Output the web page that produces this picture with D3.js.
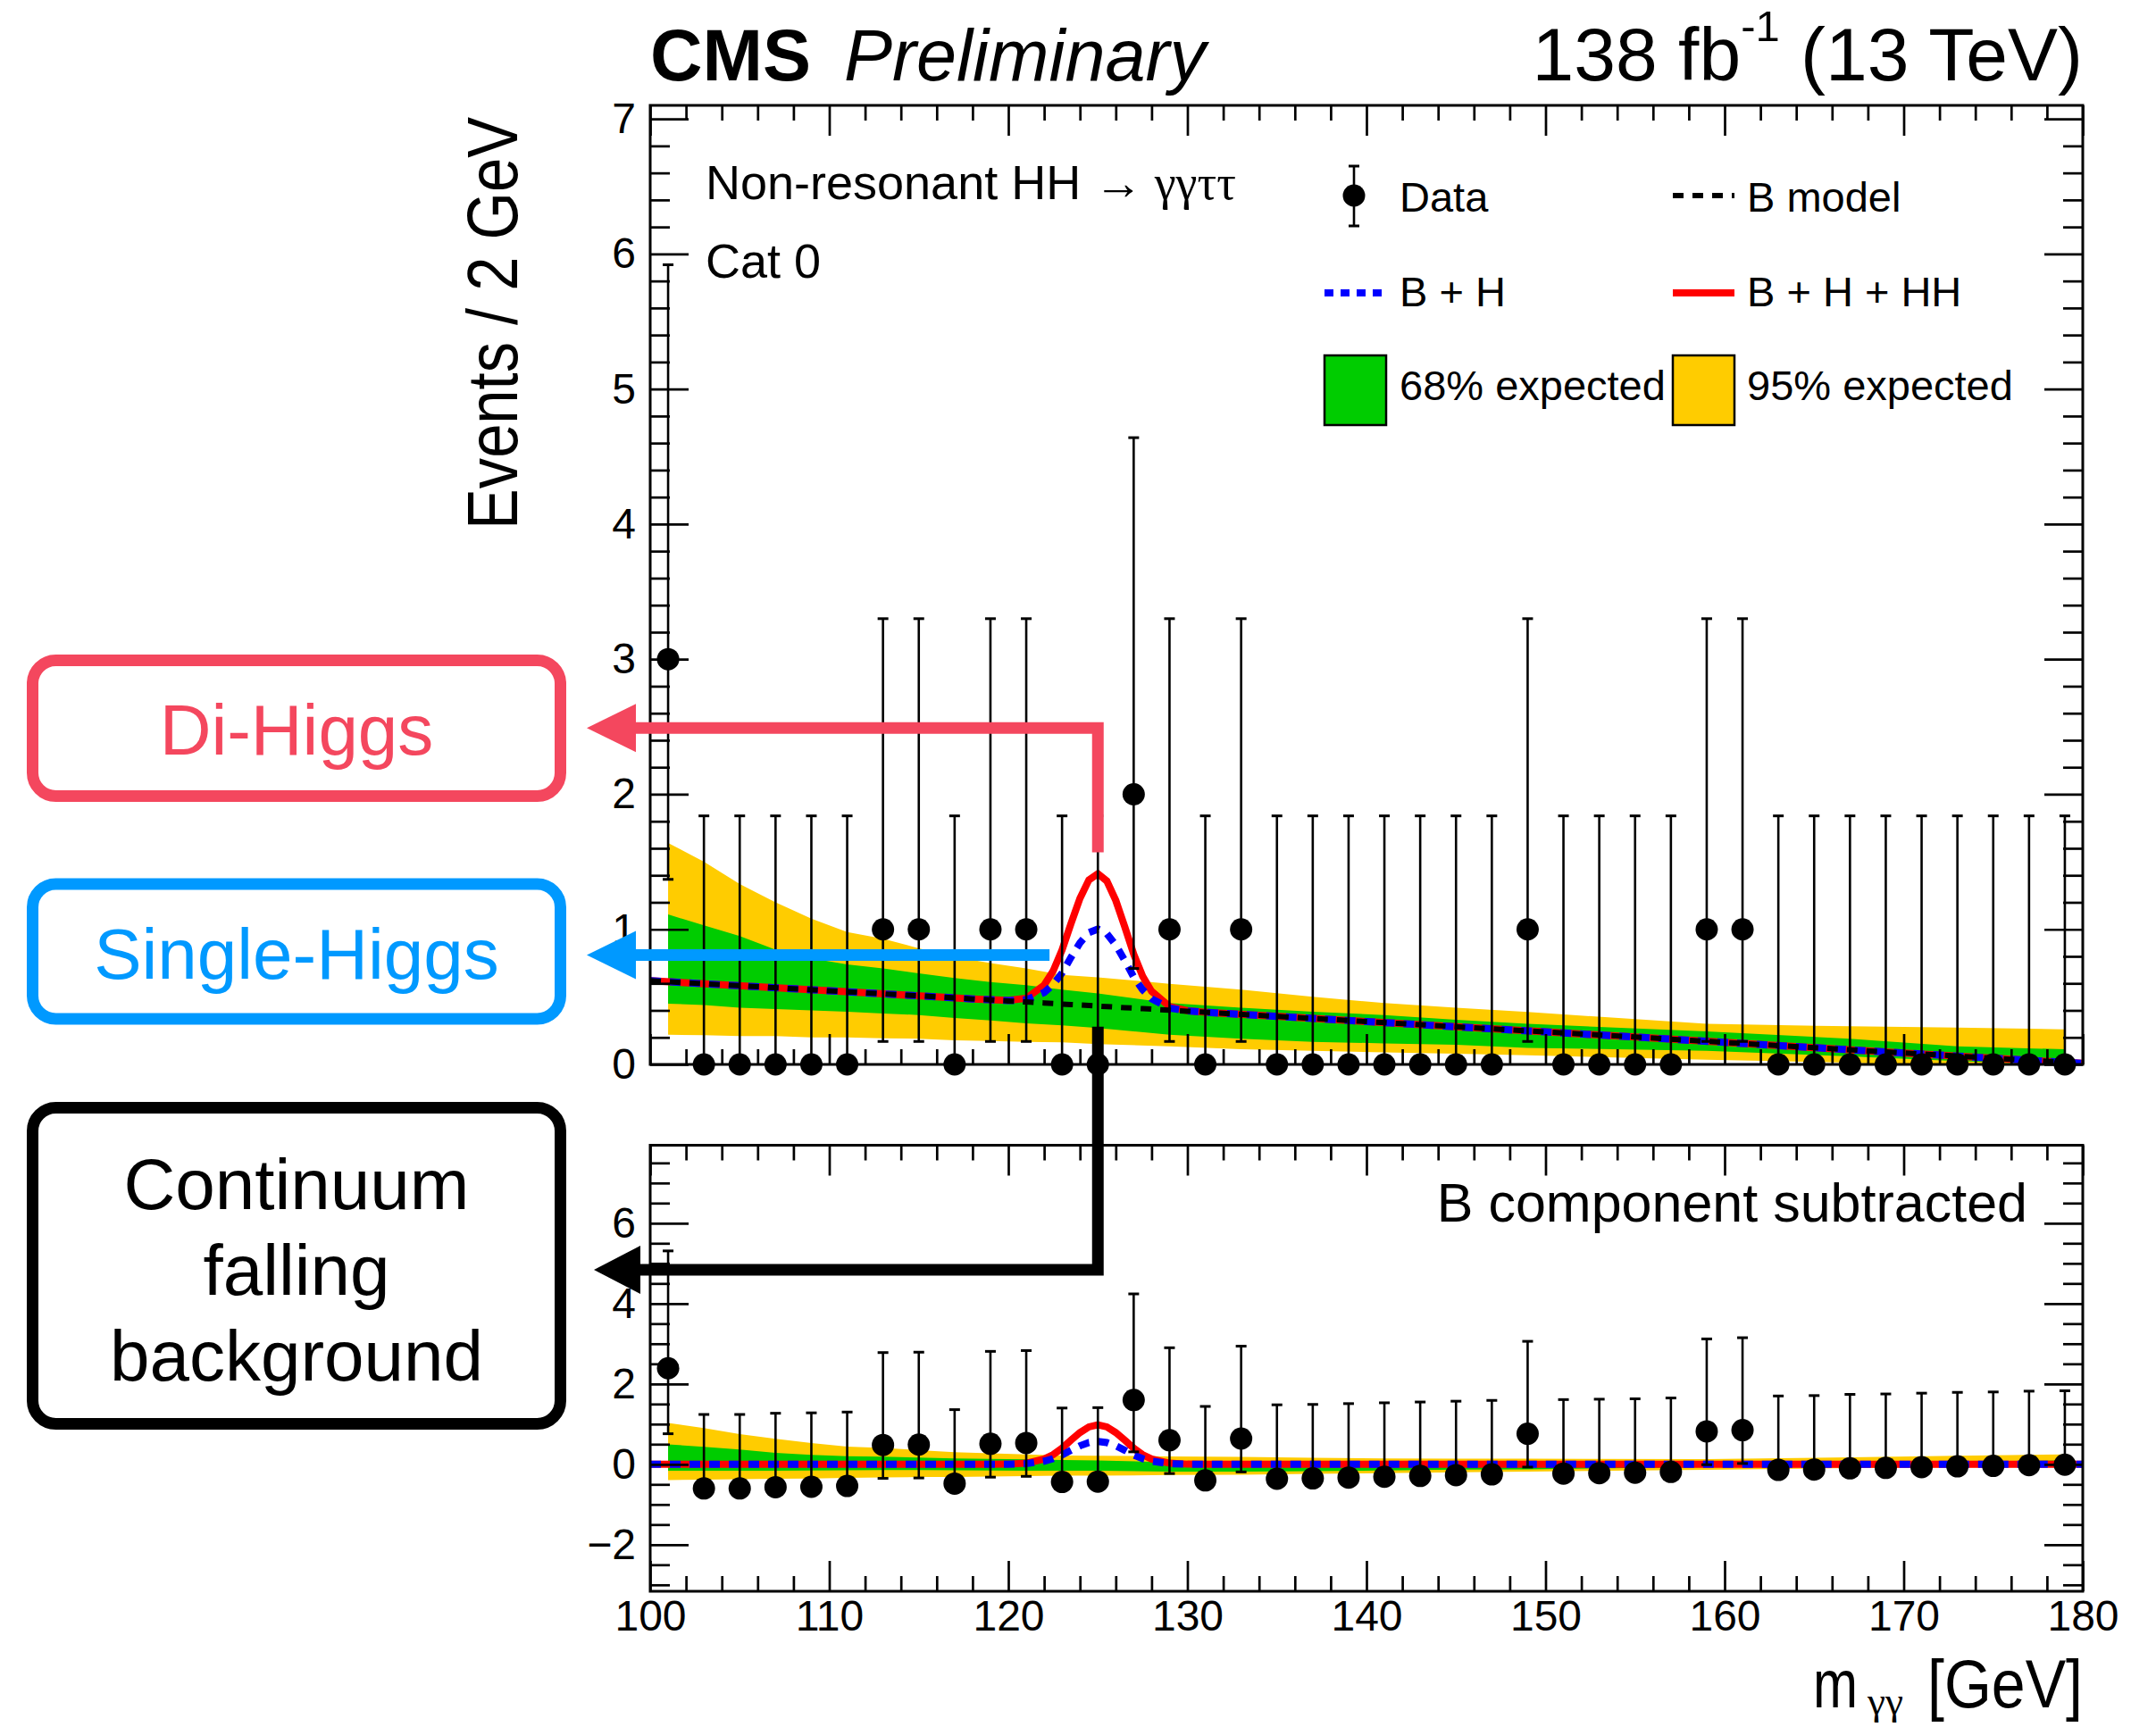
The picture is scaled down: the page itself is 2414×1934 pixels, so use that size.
<!DOCTYPE html>
<html>
<head>
<meta charset="utf-8">
<title>Non-resonant HH - Cat 0</title>
<script src="https://cdn.jsdelivr.net/npm/d3@7"></script>
<style>
  body { margin: 0; background: #fff; }
  svg { display: block; font-family: "Liberation Sans", Arial, Helvetica, sans-serif; }
</style>
</head>
<body>
<svg id="chart" width="2414" height="1934"></svg>
<script>
// ---- values ----
const binCenters = [101, 103, 105, 107, 109, 111, 113, 115, 117, 119, 121, 123, 125, 127, 129, 131, 133, 135, 137, 139,
                    141, 143, 145, 147, 149, 151, 153, 155, 157, 159, 161, 163, 165, 167, 169, 171, 173, 175, 177, 179];
const counts = [3, 0, 0, 0, 0, 0, 1, 1, 0, 1, 1, 0, 0, 2, 1, 0, 1, 0, 0, 0,
                0, 0, 0, 0, 1, 0, 0, 0, 0, 1, 1, 0, 0, 0, 0, 0, 0, 0, 0, 0];
const errDown = [1.63, 0, 0, 0, 0, 0, 0.83, 0.83, 0, 0.83, 0.83, 0, 0, 1.29, 0.83, 0, 0.83, 0, 0, 0,
                 0, 0, 0, 0, 0.83, 0, 0, 0, 0, 0.83, 0.83, 0, 0, 0, 0, 0, 0, 0, 0, 0];
const errUp = [2.92, 1.84, 1.84, 1.84, 1.84, 1.84, 2.30, 2.30, 1.84, 2.30, 2.30, 1.84, 1.84, 2.64, 2.30, 1.84, 2.30, 1.84, 1.84, 1.84,
               1.84, 1.84, 1.84, 1.84, 2.30, 1.84, 1.84, 1.84, 1.84, 2.30, 2.30, 1.84, 1.84, 1.84, 1.84, 1.84, 1.84, 1.84, 1.84, 1.84];
// lower pad: data with the B component subtracted
const subtracted = [2.39, -0.60, -0.60, -0.57, -0.56, -0.54, 0.48, 0.49, -0.48, 0.51, 0.53, -0.44, -0.43, 1.60, 0.60, -0.40, 0.64, -0.36, -0.35, -0.33,
                    -0.31, -0.29, -0.27, -0.25, 0.76, -0.23, -0.22, -0.21, -0.19, 0.82, 0.85, -0.14, -0.13, -0.10, -0.09, -0.07, -0.05, -0.04, -0.02, -0.01];

// fitted curves
const curveX = [100, 104, 108, 112, 116, 118, 119, 120, 121, 122, 122.5, 123, 123.5, 124, 124.5, 125, 125.5, 126, 126.5, 127,
                127.5, 128, 129, 130, 131, 132, 136, 140, 145, 150, 155, 160, 165, 170, 175, 180];
const bModel = [0.62, 0.59, 0.56, 0.53, 0.50, 0.485, 0.478, 0.47, 0.462, 0.455, 0.451, 0.447, 0.443, 0.44, 0.436, 0.432, 0.428, 0.424, 0.42, 0.417,
                0.413, 0.409, 0.401, 0.394, 0.386, 0.378, 0.348, 0.317, 0.279, 0.241, 0.203, 0.163, 0.124, 0.085, 0.046, 0.008];
const singleH = [0, 0, 0, 0, 0, 0, 0.001, 0.002, 0.016, 0.077, 0.14, 0.23, 0.35, 0.46, 0.54, 0.57, 0.54, 0.46, 0.35, 0.23,
                 0.14, 0.077, 0.016, 0.002, 0, 0, 0, 0, 0, 0, 0, 0, 0, 0, 0, 0];
const diH = [0, 0, 0, 0, 0, 0, 0, 0.002, 0.012, 0.055, 0.10, 0.17, 0.25, 0.33, 0.39, 0.41, 0.39, 0.33, 0.25, 0.17,
             0.10, 0.055, 0.012, 0.002, 0, 0, 0, 0, 0, 0, 0, 0, 0, 0, 0, 0];

// expected bands (upper pad)
const bandX = [101, 103, 105, 107, 109, 111, 113, 115, 117, 119, 121, 123, 125, 129, 133, 137, 141, 145, 149, 159, 167, 173, 179];
const band95Hi = [1.64, 1.50, 1.335, 1.20, 1.08, 0.98, 0.93, 0.86, 0.795, 0.75, 0.71, 0.663, 0.645, 0.597, 0.553, 0.50, 0.454, 0.42, 0.388, 0.30, 0.282, 0.273, 0.26];
const band68Hi = [1.11, 1.03, 0.95, 0.85, 0.785, 0.74, 0.71, 0.675, 0.64, 0.61, 0.586, 0.553, 0.525, 0.454, 0.42, 0.39, 0.366, 0.33, 0.30, 0.245, 0.19, 0.134, 0.112];
const band68Lo = [0.45, 0.44, 0.42, 0.41, 0.40, 0.39, 0.377, 0.366, 0.344, 0.326, 0.304, 0.289, 0.27, 0.22, 0.19, 0.167, 0.156, 0.145, 0.123, 0.10, 0.06, 0.025, -0.005];
const band95Lo = [0.22, 0.216, 0.21, 0.21, 0.20, 0.20, 0.194, 0.19, 0.178, 0.174, 0.167, 0.163, 0.15, 0.134, 0.112, 0.10, 0.09, 0.08, 0.068, 0.035, 0.013, -0.02, -0.06];

// tick labels
const xTicks = [100, 110, 120, 130, 140, 150, 160, 170, 180];
const yTopTicks = [0, 1, 2, 3, 4, 5, 6, 7];
const yBotTicks = [-2, 0, 2, 4, 6];

// ---- layout ----
const FONT = "'Liberation Sans', Arial, Helvetica, sans-serif";
const GREEK = "'Liberation Serif', 'DejaVu Serif', serif";
const YELLOW = "#ffcc00", GREEN = "#00cc00";
const left = 728, right = 2332;
const LABEL = 48;

const x = d3.scaleLinear().domain([100, 180]).range([left, right]);
const yTop = d3.scaleLinear().domain([0, 7.1]).range([1192, 118]);
const yBot = d3.scaleLinear().domain([-3.16, 7.94]).range([1782, 1282.5]);
const bAt = d3.scaleLinear().domain(curveX).range(bModel); // B model vs mass

const svg = d3.select("#chart");
const defs = svg.append("defs");

function panel(y, id, subtract) {
  const [yb, yt] = y.range();
  defs.append("clipPath").attr("id", id).append("rect")
    .attr("x", left).attr("y", yt).attr("width", right - left).attr("height", yb - yt);
  const g = svg.append("g");
  const plot = g.append("g").attr("clip-path", `url(#${id})`);
  const sh = (v, m) => subtract ? v - bAt(m) : v;

  // bands
  const band = (lo, hi) => d3.area()
    .x(d => x(d))
    .y0((d, i) => y(sh(lo[i], d)))
    .y1((d, i) => y(sh(hi[i], d)));
  plot.append("path").datum(bandX).attr("d", band(band95Lo, band95Hi)).attr("fill", YELLOW);
  plot.append("path").datum(bandX).attr("d", band(band68Lo, band68Hi)).attr("fill", GREEN);

  // frame + ticks
  axes(g, y, subtract);

  // curves
  const line = vals => d3.line().x(d => x(d)).y((d, i) => y(vals[i]))(curveX);
  const base = subtract ? curveX.map(() => 0) : bModel;
  plot.append("path").attr("d", line(base.map((b, i) => b + singleH[i] + diH[i])))
    .attr("fill", "none").attr("stroke", "#ff0000").attr("stroke-width", 8);
  plot.append("path").attr("d", line(base.map((b, i) => b + singleH[i])))
    .attr("fill", "none").attr("stroke", "#0000ff").attr("stroke-width", 8).attr("stroke-dasharray", "12,10");
  if (!subtract) {
    plot.append("path").attr("d", line(bModel))
      .attr("fill", "none").attr("stroke", "#000").attr("stroke-width", 6).attr("stroke-dasharray", "12,10");
  }

  // data with error bars
  const vals = subtract ? subtracted : counts;
  const pts = g.append("g").selectAll("g").data(binCenters).join("g");
  pts.append("line")
    .attr("x1", d => x(d)).attr("x2", d => x(d))
    .attr("y1", (d, i) => y(vals[i] - errDown[i])).attr("y2", (d, i) => y(vals[i] + errUp[i]))
    .attr("stroke", "#000").attr("stroke-width", 2.6);
  pts.append("line")
    .attr("x1", d => x(d) - 6).attr("x2", d => x(d) + 6)
    .attr("y1", (d, i) => y(vals[i] + errUp[i])).attr("y2", (d, i) => y(vals[i] + errUp[i]))
    .attr("stroke", "#000").attr("stroke-width", 3);
  pts.each(function (d, i) {
    if (errDown[i] > 0) {
      d3.select(this).append("line")
        .attr("x1", x(d) - 6).attr("x2", x(d) + 6)
        .attr("y1", y(vals[i] - errDown[i])).attr("y2", y(vals[i] - errDown[i]))
        .attr("stroke", "#000").attr("stroke-width", 3);
    }
  });
  pts.append("circle")
    .attr("cx", d => x(d)).attr("cy", (d, i) => y(vals[i])).attr("r", 12.5).attr("fill", "#000");
}

function axes(g, y, lower) {
  const [yb, yt] = y.range();
  const a = g.append("g");
  const xMinor = d3.range(100, 181, 2).filter(v => !xTicks.includes(v));
  const yMajor = lower ? yBotTicks : yTopTicks;
  const yMinor = lower
    ? d3.range(-3, 7.6, 0.5).filter(v => !yBotTicks.includes(v))
    : d3.range(1, 35).map(k => k * 0.2).filter(v => Math.abs(v - Math.round(v)) > 1e-6);
  const fmt = v => v < 0 ? "\u2212" + Math.abs(v) : String(v);
  const add = (axis, tr) => a.append("g").attr("transform", tr).call(axis)
    .call(s => s.select(".domain").remove())
    .attr("font-family", FONT).attr("font-size", LABEL);

  add(d3.axisBottom(x).tickValues(xTicks).tickSize(-34).tickPadding(10).tickFormat(lower ? fmt : ""), `translate(0,${yb})`);
  add(d3.axisBottom(x).tickValues(xMinor).tickSize(-17).tickFormat(""), `translate(0,${yb})`);
  add(d3.axisTop(x).tickValues(xTicks).tickSize(-34).tickFormat(""), `translate(0,${yt})`);
  add(d3.axisTop(x).tickValues(xMinor).tickSize(-17).tickFormat(""), `translate(0,${yt})`);
  add(d3.axisLeft(y).tickValues(yMajor).tickSize(-43).tickPadding(16).tickFormat(fmt), `translate(${left},0)`);
  add(d3.axisLeft(y).tickValues(yMinor).tickSize(-22).tickFormat(""), `translate(${left},0)`);
  add(d3.axisRight(y).tickValues(yMajor).tickSize(-43).tickFormat(""), `translate(${right},0)`);
  add(d3.axisRight(y).tickValues(yMinor).tickSize(-22).tickFormat(""), `translate(${right},0)`);

  a.selectAll(".tick line").attr("stroke", "#000").attr("stroke-width", 2.7);
  a.selectAll(".tick text").attr("fill", "#000");

  a.append("rect").attr("x", left).attr("y", yt).attr("width", right - left).attr("height", yb - yt)
    .attr("fill", "none").attr("stroke", "#000").attr("stroke-width", 3);
}

panel(yTop, "clipTop", false);
panel(yBot, "clipBot", true);

// ---- texts ----
const head = svg.append("g").attr("font-size", 81);
head.append("text").attr("x", left).attr("y", 90).attr("font-weight", "bold").text("CMS");
head.append("text").attr("x", 945).attr("y", 90).attr("font-style", "italic").text("Preliminary");
const lumi = head.append("text").attr("x", right).attr("y", 90).attr("text-anchor", "end").attr("font-size", 84);
lumi.append("tspan").text("138 fb");
lumi.append("tspan").attr("font-size", 49).attr("dy", -44).text("-1");
lumi.append("tspan").attr("dy", 44).text(" (13 TeV)");

svg.append("text").attr("transform", "translate(579,131) rotate(-90)")
  .attr("text-anchor", "end").attr("font-size", 80)
  .attr("textLength", 462).attr("lengthAdjust", "spacingAndGlyphs")
  .text("Events / 2 GeV");

// x title, pieces placed one by one
const xt = svg.append("g").attr("font-size", 76);
xt.append("text").attr("x", 2030).attr("y", 1912).attr("textLength", 50).attr("lengthAdjust", "spacingAndGlyphs").text("m");
xt.append("text").attr("x", 2091).attr("y", 1920).attr("font-family", GREEK).attr("font-size", 44)
  .attr("textLength", 40).attr("lengthAdjust", "spacingAndGlyphs").text("γγ");
xt.append("text").attr("x", right).attr("y", 1912).attr("text-anchor", "end")
  .attr("textLength", 174).attr("lengthAdjust", "spacingAndGlyphs").text("[GeV]");

const t1 = svg.append("text").attr("x", 790).attr("y", 223).attr("font-size", 54);
t1.append("tspan").text("Non-resonant HH ");
t1.append("tspan").attr("font-family", GREEK).text("→ γγττ");
svg.append("text").attr("x", 790).attr("y", 311).attr("font-size", 54).text("Cat 0");
svg.append("text").attr("x", 2270).attr("y", 1368).attr("font-size", 61).attr("text-anchor", "end")
  .text("B component subtracted");

// ---- legend ----
const lg = svg.append("g").attr("font-size", 47);
lg.append("line").attr("x1", 1516).attr("x2", 1516).attr("y1", 186).attr("y2", 253).attr("stroke", "#000").attr("stroke-width", 2.6);
[186, 253].forEach(v => lg.append("line").attr("x1", 1510).attr("x2", 1522).attr("y1", v).attr("y2", v).attr("stroke", "#000").attr("stroke-width", 3));
lg.append("circle").attr("cx", 1516).attr("cy", 219).attr("r", 12.5);
lg.append("text").attr("x", 1567).attr("y", 237).text("Data");
lg.append("line").attr("x1", 1873).attr("x2", 1942).attr("y1", 219).attr("y2", 219)
  .attr("stroke", "#000").attr("stroke-width", 6).attr("stroke-dasharray", "12,10");
lg.append("text").attr("x", 1956).attr("y", 237).text("B model");
lg.append("line").attr("x1", 1483).attr("x2", 1550).attr("y1", 328).attr("y2", 328)
  .attr("stroke", "#0000ff").attr("stroke-width", 8).attr("stroke-dasharray", "10,8");
lg.append("text").attr("x", 1567).attr("y", 343).text("B + H");
lg.append("line").attr("x1", 1873).attr("x2", 1942).attr("y1", 328).attr("y2", 328)
  .attr("stroke", "#ff0000").attr("stroke-width", 8);
lg.append("text").attr("x", 1956).attr("y", 343).text("B + H + HH");
lg.append("rect").attr("x", 1483).attr("y", 398).attr("width", 69).attr("height", 78)
  .attr("fill", GREEN).attr("stroke", "#000").attr("stroke-width", 2.5);
lg.append("text").attr("x", 1567).attr("y", 448).text("68% expected");
lg.append("rect").attr("x", 1873).attr("y", 398).attr("width", 69).attr("height", 78)
  .attr("fill", YELLOW).attr("stroke", "#000").attr("stroke-width", 2.5);
lg.append("text").attr("x", 1956).attr("y", 448).text("95% expected");

// ---- annotation boxes and arrows ----
const PINK = "#f4475e", BLUE = "#0099ff";
const ann = svg.append("g").attr("font-size", 80).attr("text-anchor", "middle");
const boxes = [
  { y: 739.5, h: 152, c: PINK, lines: ["Di-Higgs"], base: 845 },
  { y: 990, h: 151, c: BLUE, lines: ["Single-Higgs"], base: 1096 },
  { y: 1240.5, h: 354, c: "#000", lines: ["Continuum", "falling", "background"], base: 1354 }
];
boxes.forEach(b => {
  ann.append("rect").attr("x", 36.5).attr("y", b.y).attr("width", 591).attr("height", b.h)
    .attr("rx", 26).attr("fill", "none").attr("stroke", b.c).attr("stroke-width", 13);
  b.lines.forEach((t, i) => ann.append("text").attr("x", 332).attr("y", b.base + i * 96).attr("fill", b.c).text(t));
});

const xPeak = x(125);
const arrows = [
  { c: PINK, pts: [[xPeak, yTop(1.57)], [xPeak, yTop(2.49)], [712, yTop(2.49)]], tip: 657 },
  { c: BLUE, pts: [[x(122.3), yTop(0.81)], [712, yTop(0.81)]], tip: 657 },
  { c: "#000", pts: [[xPeak, yTop(0.28)], [xPeak, yBot(4.84)], [717, yBot(4.84)]], tip: 665 }
];
arrows.forEach(a => {
  ann.append("path").attr("d", d3.line()(a.pts)).attr("fill", "none")
    .attr("stroke", a.c).attr("stroke-width", 13).attr("stroke-linejoin", "miter");
  const [bx, by] = a.pts[a.pts.length - 1];
  ann.append("path").attr("d", `M${bx},${by - 27}L${a.tip},${by}L${bx},${by + 27}Z`).attr("fill", a.c);
});
</script>
</body>
</html>
